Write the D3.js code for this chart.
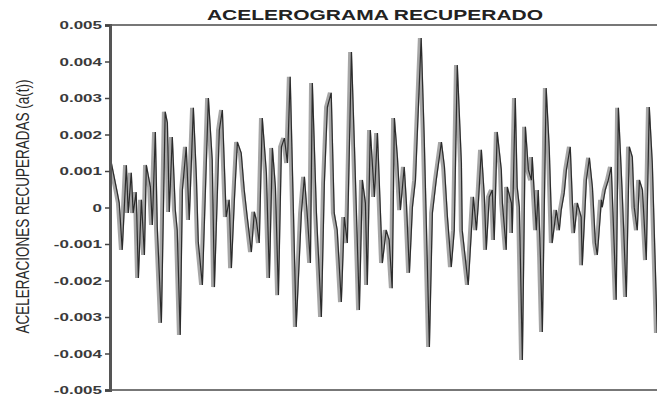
<!DOCTYPE html>
<html>
<head>
<meta charset="utf-8">
<script src="https://cdn.jsdelivr.net/npm/d3@7/dist/d3.min.js"></script>
<style>
  html, body { margin: 0; padding: 0; background: #fff; }
  svg { display: block; }
</style>
</head>
<body>
<svg id="chart" width="657" height="398"></svg>
<script>
// Recovered accelerogram: time (s) and acceleration a(t)
const chartTitle = "ACELEROGRAMA RECUPERADO";
const yLabel = "ACELERACIONES RECUPERADAS (a(t))";
const yTicks = [0.005, 0.004, 0.003, 0.002, 0.001, 0, -0.001, -0.002, -0.003, -0.004, -0.005];

const time = [
  0.00, 0.22, 0.29, 0.40, 0.55, 0.62, 0.73, 0.80, 0.91, 0.99,
  1.10, 1.21, 1.28, 1.43, 1.50, 1.61, 1.68, 1.83, 1.97, 2.05,
  2.12, 2.23, 2.34, 2.41, 2.52, 2.60, 2.74, 2.85, 3.00, 3.11,
  3.18, 3.33, 3.55, 3.69, 3.77, 3.95, 4.06, 4.20, 4.31, 4.39,
  4.50, 4.61, 4.75, 4.86, 4.97, 5.12, 5.23, 5.30, 5.41, 5.52,
  5.67, 5.78, 5.89, 6.00, 6.11, 6.22, 6.33, 6.44, 6.54, 6.76,
  6.95, 7.06, 7.17, 7.28, 7.35, 7.50, 7.68, 7.79, 7.90, 8.04,
  8.15, 8.26, 8.41, 8.52, 8.63, 8.78, 8.89, 9.07, 9.18, 9.29,
  9.36, 9.47, 9.62, 9.73, 9.91, 10.05, 10.16, 10.27, 10.35, 10.46,
  10.57, 10.71, 10.79, 10.90, 11.01, 11.12, 11.33, 11.44, 11.63, 11.74,
  11.88, 12.07, 12.18, 12.29, 12.43, 12.54, 12.65, 12.80, 12.83, 13.05,
  13.24, 13.35, 13.42, 13.53, 13.64, 13.71, 13.82, 13.93, 14.00, 14.11,
  14.26, 14.30, 14.44, 14.48, 14.63, 14.66, 14.77, 14.84, 14.92, 15.03,
  15.14, 15.25, 15.36, 15.39, 15.54, 15.61, 15.69, 15.76, 15.90, 16.01,
  16.12, 16.27, 16.38, 16.45, 16.56, 16.64, 16.78, 16.86, 16.93, 17.04,
  17.18, 17.22, 17.37, 17.48, 17.59, 17.70, 17.77, 17.92, 17.95, 18.06,
  18.17, 18.28, 18.46, 18.54, 18.68, 18.83, 18.94, 19.05, 19.12, 19.23,
  19.31, 19.42, 19.56, 19.67, 19.78, 19.96
];

const accel = [
  0.00122, 0.00040, 0.00012, -0.00116, 0.00116, -0.00015, 0.00095, -0.00015, 0.00042, -0.00193,
  0.00021, -0.00130, 0.00116, 0.00056, -0.00048, 0.00207, -0.00053, -0.00316, 0.00262, 0.00232,
  -0.00012, 0.00193, -0.00007, -0.00062, -0.00349, 0.00048, 0.00166, -0.00034, 0.00273, 0.00084,
  -0.00095, -0.00212, 0.00300, 0.00130, -0.00218, 0.00212, 0.00267, -0.00026, 0.00021, -0.00166,
  0.00021, 0.00179, 0.00149, 0.00048, -0.00026, -0.00122, -0.00012, -0.00034, -0.00097, 0.00245,
  0.00095, -0.00193, 0.00163, 0.00056, -0.00240, 0.00166, 0.00190, 0.00122, 0.00358, -0.00327,
  -0.00015, 0.00084, -0.00026, -0.00152, 0.00341, -0.00015, -0.00300, 0.00067, 0.00275, 0.00314,
  -0.00015, -0.00062, -0.00259, -0.00026, -0.00097, 0.00426, 0.00166, -0.00281, 0.00075, 0.00012,
  -0.00212, 0.00212, 0.00029, 0.00204, -0.00152, -0.00062, -0.00089, -0.00221, 0.00245, 0.00138,
  -0.00007, 0.00111, 0.00012, -0.00179, 0.00001, 0.00075, 0.00464, 0.00193, -0.00382, -0.00015,
  0.00075, 0.00179, 0.00111, -0.00026, -0.00163, -0.00062, 0.00390, 0.00122, -0.00062, -0.00212,
  0.00029, -0.00062, 0.00012, 0.00158, 0.00029, -0.00116, 0.00029, 0.00048, -0.00089, 0.00207,
  0.00103, 0.00012, -0.00116, 0.00056, 0.00012, -0.00070, 0.00300, 0.00056, 0.00001, -0.00418,
  0.00221, 0.00103, 0.00075, 0.00138, -0.00062, 0.00048, -0.00136, -0.00341, 0.00327, 0.00166,
  -0.00097, -0.00007, -0.00062, -0.00007, 0.00040, 0.00103, 0.00166, 0.00012, -0.00070, 0.00012,
  -0.00026, -0.00158, 0.00075, 0.00136, 0.00056, -0.00097, -0.00130, 0.00021, 0.00001, 0.00048,
  0.00075, 0.00111, -0.00253, 0.00273, 0.00040, -0.00245, 0.00166, 0.00138, 0.00001, -0.00062,
  0.00075, 0.00048, -0.00144, 0.00275, 0.00122, -0.00344
];

const svg = d3.select("#chart");
const margin = { left: 110, right: 0, top: 25, bottom: 8 };
const W = 657, H = 398;

const x = d3.scaleLinear().domain([0, 20]).range([margin.left, W - margin.right]);
const y = d3.scaleLinear().domain([-0.005, 0.005]).range([H - margin.bottom, margin.top]);

const series = time.map((t, i) => ({ t, a: accel[i] }));

// Plot clip region
svg.append("clipPath").attr("id", "plotClip")
  .append("rect")
  .attr("x", x(0)).attr("y", y(0.005))
  .attr("width", x(20) - x(0)).attr("height", y(-0.005) - y(0.005));

const line = d3.line().x(d => x(d.t)).y(d => y(d.a));

// Trace drawn as a light band with a dark core along one edge
const plot = svg.append("g").attr("clip-path", "url(#plotClip)");
plot.append("path")
  .datum(series)
  .attr("d", line)
  .attr("fill", "none")
  .attr("stroke", "#a6a6a6")
  .attr("stroke-width", 4)
  .attr("stroke-linejoin", "miter")
  .attr("stroke-miterlimit", 3);
plot.append("path")
  .datum(series)
  .attr("d", line)
  .attr("transform", "translate(1.3,0)")
  .attr("fill", "none")
  .attr("stroke", "#2c2c2c")
  .attr("stroke-width", 1.2)
  .attr("stroke-linejoin", "miter")
  .attr("stroke-miterlimit", 3);

// Frame: top and bottom borders
svg.append("line")
  .attr("x1", x(0)).attr("x2", W)
  .attr("y1", y(0.005)).attr("y2", y(0.005))
  .attr("stroke", "#777").attr("stroke-width", 2);
svg.append("line")
  .attr("x1", x(0)).attr("x2", W)
  .attr("y1", y(-0.005)).attr("y2", y(-0.005))
  .attr("stroke", "#777").attr("stroke-width", 2);

// Y axis
const locale = d3.formatLocale({ decimal: ".", thousands: ",", grouping: [3], currency: ["", ""], minus: "-" });
const fmt = locale.format(".3f");
const yAxis = d3.axisLeft(y)
  .tickValues(yTicks)
  .tickSize(5)
  .tickPadding(4)
  .tickFormat(d => d === 0 ? "0" : fmt(d));

const ga = svg.append("g")
  .attr("transform", `translate(${x(0)},0)`)
  .call(yAxis);
ga.select(".domain").attr("stroke", "#555").attr("stroke-width", 3);
ga.selectAll(".tick line").attr("stroke", "#444").attr("stroke-width", 1.5);
ga.selectAll(".tick text")
  .attr("x", null).attr("dy", null)
  .attr("transform", "translate(-8,0) scale(1.7,1)")
  .attr("dominant-baseline", "central")
  .attr("font-family", "Arial, 'Liberation Sans', sans-serif")
  .attr("font-size", 10)
  .attr("font-weight", "bold")
  .attr("fill", "#3a3a3a");

// Title
svg.append("text")
  .attr("transform", `translate(${375},20) scale(1.5,1)`)
  .attr("text-anchor", "middle")
  .attr("font-family", "Arial, 'Liberation Sans', sans-serif")
  .attr("font-size", 14)
  .attr("font-weight", "bold")
  .attr("fill", "#222")
  .text(chartTitle);

// Y label
svg.append("text")
  .attr("transform", `translate(29,${(y(0.005) + y(-0.005)) / 2 - 1}) scale(1.35,1) rotate(-90)`)
  .attr("text-anchor", "middle")
  .attr("font-family", "Arial, 'Liberation Sans', sans-serif")
  .attr("font-size", 13.5)
  .attr("fill", "#2a2a2a")
  .text(yLabel);
</script>
</body>
</html>
